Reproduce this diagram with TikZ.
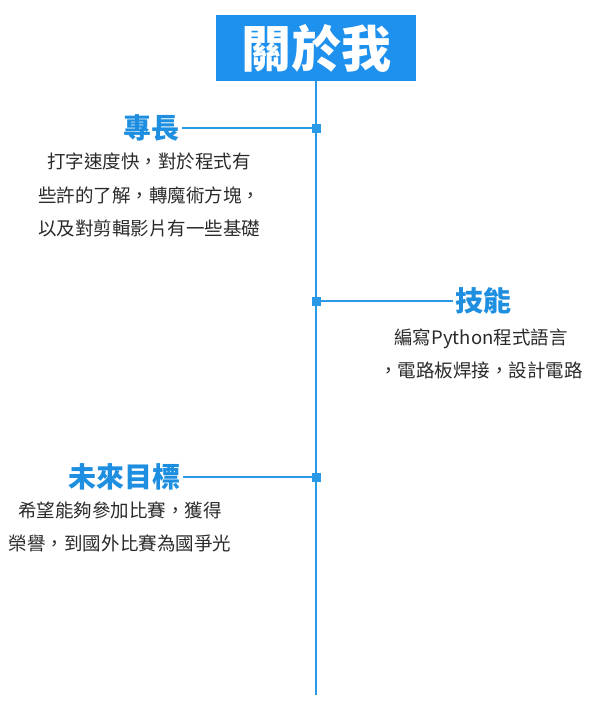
\documentclass[tikz,border=0pt]{standalone}
\usepackage{fontspec}
\newfontfamily\cjk{Noto Sans CJK TC}
\definecolor{titleblue}{HTML}{1E90EE}
\definecolor{lineblue}{HTML}{2A9AE8}
\definecolor{headblue}{HTML}{1E8FE0}
\definecolor{bodygray}{HTML}{2A2A2A}
\tikzset{
  titlebox/.style={fill=titleblue, text=white, font=\cjk\bfseries\fontsize{50}{54}\selectfont, minimum width=200pt, minimum height=66pt, inner sep=0pt},
  heading/.style={text=headblue, font=\cjk\bfseries\fontsize{28}{30}\selectfont, inner sep=2pt},
  body/.style={text=bodygray, font=\cjk\fontsize{18.5}{33.5}\selectfont, align=center, inner sep=0pt},
  marker/.style={fill=lineblue, minimum size=9pt, inner sep=0pt},
  tline/.style={draw=lineblue, line width=2pt},
}
\begin{document}
\begin{tikzpicture}[x=1pt,y=-1pt]
\useasboundingbox (0,0) rectangle (595,706);
\node[titlebox] (title) at (316,48) {關於我};
\coordinate (bottom) at (316,695);
\draw[tline] (title.south) -- (bottom);
% 專長
\node[marker] (m1) at (316,128) {};
\node[heading,anchor=east] (h1) at (182,128) {專長};
\draw[tline] (h1.east) -- (m1.center);
\node[body] (b1) at (149,195) {打字速度快，對於程式有\\些許的了解，轉魔術方塊，\\以及對剪輯影片有一些基礎};
% 技能
\node[marker] (m2) at (316,301) {};
\node[heading,anchor=west] (h2) at (453,301) {技能};
\draw[tline] (m2.center) -- (h2.west);
\node[body] (b2) at (481,354) {編寫Python程式語言\\，電路板焊接，設計電路};
% 未來目標
\node[marker] (m3) at (316,477) {};
\node[heading,anchor=east] (h3) at (183,477) {未來目標};
\draw[tline] (h3.east) -- (m3.center);
\node[body] (b3) at (120,527) {希望能夠參加比賽，獲得\\榮譽，到國外比賽為國爭光};
\end{tikzpicture}
\end{document}
